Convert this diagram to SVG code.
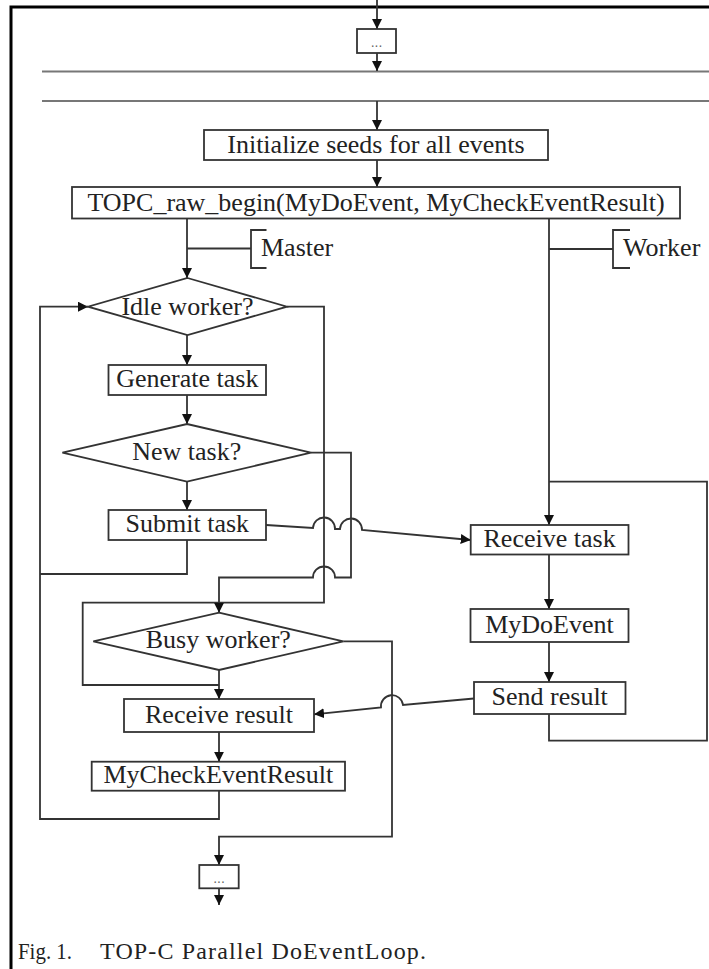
<svg xmlns="http://www.w3.org/2000/svg" width="709" height="969" viewBox="0 0 709 969">
<defs>
<marker id="ah" markerUnits="userSpaceOnUse" markerWidth="11" markerHeight="10" refX="10" refY="5" orient="auto">
<path d="M0,0 L10,5 L0,10 z" fill="#111"/>
</marker>
<style>
.box{fill:#fff;stroke:#333;stroke-width:1.8}
.ln{fill:none;stroke:#333;stroke-width:1.8}
.bar{fill:none;stroke:#777;stroke-width:2}
.ar{fill:none;stroke:#333;stroke-width:1.8;marker-end:url(#ah)}
.t{font-family:"Liberation Serif","Times New Roman",serif;font-size:26px;fill:#222;text-anchor:middle}
.tl{font-family:"Liberation Serif","Times New Roman",serif;font-size:26px;fill:#222}
.dots{font-family:"Liberation Sans",Arial,sans-serif;font-size:14px;fill:#666;text-anchor:middle}
.cap{font-family:"Liberation Serif","Times New Roman",serif;font-size:24px;fill:#222}
</style>
</defs>
<rect width="709" height="969" fill="#fff"/>
<path d="M11,969 V7 H709" fill="none" stroke="#000" stroke-width="3"/>
<g id="bars">
<line class="bar" x1="42" y1="71.5" x2="709" y2="71.5"/>
<line class="bar" x1="42" y1="101" x2="709" y2="101"/>
</g>
<g id="connectors">
<path class="ar" d="M377,0 V29"/>
<path class="ar" d="M377,53 V71"/>
<path class="ar" d="M377,101 V130"/>
<path class="ar" d="M377,160 V187"/>
<path class="ar" d="M187,218.5 V278"/>
<path class="ln" d="M187,248.5 H251"/>
<path class="ln" d="M266.5,230 H251 V268 H266.5"/>
<path class="ar" d="M549,218.5 V525"/>
<path class="ln" d="M549,249 H613"/>
<path class="ln" d="M630,230 H613 V268 H630"/>
<path class="ar" d="M187,335 V365"/>
<path class="ar" d="M187,395 V424"/>
<path class="ar" d="M187,481.7 V510"/>
<path class="ln" d="M187,540 V574 H40"/>
<path class="ar" d="M219,790.7 V819 H40 V306.7 H88"/>
<path class="ln" d="M287,306.7 H324 V602.7 H82.7 V685 H219"/>
<path class="ar" d="M311,452.7 H351 V577.5 H335 A11,11 0 0 0 313,577.5 H219 V612.7"/>
<path class="ar" d="M266,525 L313,528 A11,11 0 0 1 335,529 L340,529 A11,11 0 0 1 362,530 L470.7,540"/>
<path class="ar" d="M219,670 V699"/>
<path class="ar" d="M343.3,641.3 H392 V836.7 H219 V865"/>
<path class="ar" d="M219,732 V761.7"/>
<path class="ar" d="M219,888.3 V905"/>
<path class="ar" d="M474,698.5 L403,705 A11,11 0 0 0 381,707.5 L314,714.3"/>
<path class="ln" d="M549,714 V740.7 H707 V481.7 H549"/>
<path class="ar" d="M549,554.5 V609"/>
<path class="ar" d="M549,642 V682"/>
</g>
<g id="dots-top">
<rect class="box" x="357" y="29" width="39" height="24"/>
<text class="dots" x="376.5" y="47">...</text>
</g>
<g id="init">
<rect class="box" x="204" y="130" width="344" height="30"/>
<text class="t" x="376" y="153">Initialize seeds for all events</text>
</g>
<g id="topc">
<rect class="box" x="72" y="187" width="608" height="31.5"/>
<text class="t" x="376" y="211">TOPC_raw_begin(MyDoEvent, MyCheckEventResult)</text>
</g>
<g id="master-label">
<text class="tl" x="261" y="256">Master</text>
</g>
<g id="worker-label">
<text class="tl" x="623" y="256">Worker</text>
</g>
<g id="idle">
<polygon class="box" points="187.5,278 287,306.7 187.5,335 88,306.7"/>
<text class="t" x="187.5" y="315">Idle worker?</text>
</g>
<g id="generate">
<rect class="box" x="108.5" y="365" width="157.5" height="30"/>
<text class="t" x="187.3" y="387">Generate task</text>
</g>
<g id="newtask">
<polygon class="box" points="187,424 311,452.7 187,481.7 62.4,452.7"/>
<text class="t" x="186.7" y="460">New task?</text>
</g>
<g id="submit">
<rect class="box" x="108.5" y="510" width="157.5" height="30"/>
<text class="t" x="187.3" y="532">Submit task</text>
</g>
<g id="busy">
<polygon class="box" points="219,612.7 343.3,641.3 219,670 93.3,641.3"/>
<text class="t" x="218.3" y="648">Busy worker?</text>
</g>
<g id="recvresult">
<rect class="box" x="124" y="699" width="190" height="33"/>
<text class="t" x="219" y="723">Receive result</text>
</g>
<g id="checkresult">
<rect class="box" x="91.7" y="761.7" width="253.3" height="29"/>
<text class="t" x="218.3" y="783">MyCheckEventResult</text>
</g>
<g id="dots-bottom">
<rect class="box" x="199.3" y="865" width="39.4" height="23.3"/>
<text class="dots" x="219" y="883">...</text>
</g>
<g id="recvtask">
<rect class="box" x="470.7" y="525" width="157.8" height="29.5"/>
<text class="t" x="549.6" y="547">Receive task</text>
</g>
<g id="mydoevent">
<rect class="box" x="470.5" y="609" width="158" height="33"/>
<text class="t" x="549.5" y="633">MyDoEvent</text>
</g>
<g id="sendresult">
<rect class="box" x="474" y="682" width="151.5" height="32"/>
<text class="t" x="549.7" y="705">Send result</text>
</g>
<g id="caption">
<text class="cap" x="18" y="959" textLength="54" lengthAdjust="spacingAndGlyphs">Fig. 1.</text>
<text class="cap" x="100" y="959" textLength="326" lengthAdjust="spacing">TOP-C Parallel DoEventLoop.</text>
</g>
</svg>
